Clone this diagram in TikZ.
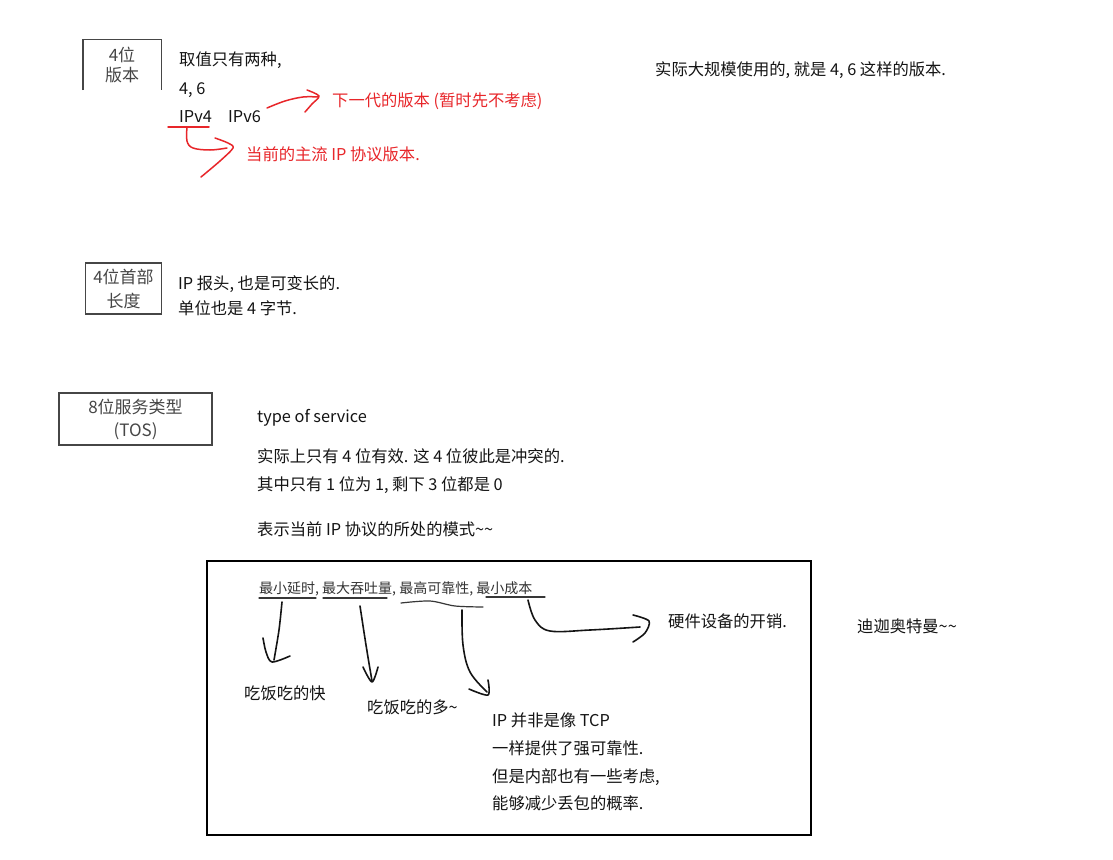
\documentclass[tikz,border=0pt]{standalone}
\usepackage{fontspec}
\setmainfont{Noto Sans CJK SC}
\definecolor{inkred}{RGB}{232,38,42}
\definecolor{ink}{RGB}{20,20,20}
\definecolor{scan}{RGB}{70,70,70}
\tikzset{
  txt/.style={anchor=base west, inner sep=0, text=ink, font=\fontsize{16.3}{20}\selectfont},
  redtxt/.style={txt, text=inkred},
  smalltxt/.style={anchor=base west, inner sep=0, text=black!80, font=\fontsize{14}{18}\selectfont},
  fieldbox/.style={inner sep=0, align=center, text=scan},
  boxline/.style={draw=scan, line width=1.4pt},
  redpen/.style={draw=inkred, line width=1.5pt, line cap=round, line join=round},
  pen/.style={draw=ink, line width=1.6pt, line cap=round, line join=round},
  thinpen/.style={draw=ink!85, line width=1.2pt, line cap=round}
}
\begin{document}
\begin{tikzpicture}[x=1pt,y=-1pt]
\useasboundingbox[fill=white] (0,0) rectangle (1113,859);

% ---- field boxes ----
\node[fieldbox, minimum width=78pt, minimum height=50pt, font=\fontsize{17}{20}\selectfont] (b1) at (122,65) {4位\\版本};
\draw[boxline] (b1.south west) -- (b1.north west) -- (b1.north east) -- (b1.south east);

\node[fieldbox, boxline, minimum width=76pt, minimum height=51pt, font=\fontsize{17}{24}\selectfont] (b2) at (123.5,288.5) {4位首部\\长度};

\node[fieldbox, boxline, minimum width=153pt, minimum height=52pt, font=\fontsize{17}{23}\selectfont] (b3) at (135.5,419) {8位服务类型\\(TOS)};

% ---- version texts ----
\node[txt] (v1) at (179,66) {取值只有两种,};
\node[txt] (v2) at (179,94) {4, 6};
\node[txt] (v4) at (179,122) {IPv4};
\node[txt] (v6) at (228,122) {IPv6};
\node[redtxt] (next) at (332,106) {下一代的版本 (暂时先不考虑)};
\node[redtxt] (cur) at (246,160) {当前的主流 IP 协议版本.};
\node[txt] (real) at (655,75) {实际大规模使用的, 就是 4, 6 这样的版本.};

% red strokes
\coordinate (u1) at (168,127);
\coordinate (u2) at (209,127);
\draw[redpen] (u1) -- (u2);
\draw[redpen] plot[smooth, tension=0.6] coordinates {(187,127) (187,141) (193,148) (210,150) (227,148)};
\draw[redpen] plot[smooth, tension=0.5] coordinates {(215,138) (228,143) (233,148) (220,161) (201,177)};
\draw[redpen] plot[smooth, tension=0.6] coordinates {(267,108) (285,101) (303,97) (318,97)};
\draw[redpen] plot[smooth, tension=0.5] coordinates {(307,90) (319,96) (312,104) (305,112)};

% ---- header length texts ----
\node[txt] (h1) at (178,289) {IP 报头, 也是可变长的.};
\node[txt] (h2) at (178,314) {单位也是 4 字节.};

% ---- TOS texts ----
\node[txt] (t1) at (257,422) {type of service};
\node[txt] (t2) at (257,462) {实际上只有 4 位有效. 这 4 位彼此是冲突的.};
\node[txt] (t3) at (257,490) {其中只有 1 位为 1, 剩下 3 位都是 0};
\node[txt] (t4) at (257,535) {表示当前 IP 协议的所处的模式\textasciitilde\textasciitilde};

% ---- big frame ----
\draw[draw=black, line width=2.6pt] (207,561) rectangle (811,835);
\node[smalltxt] (modes) at (259,593) {最小延时, 最大吞吐量, 最高可靠性, 最小成本};

% underlines
\draw[thinpen] (259,598) -- (316,598);
\draw[thinpen] (323,598) -- (387,598);
\draw[thinpen] plot[smooth, tension=0.5] coordinates {(401,603) (430,601) (455,606) (483,607)};
\draw[thinpen] (486,597) -- (545,597);

% arrows
\draw[pen] plot[smooth, tension=0.5] coordinates {(282,602) (279,630) (274,660)};
\draw[pen] plot[smooth, tension=0.5] coordinates {(263,638) (266,652) (272,662) (290,656)};

\draw[pen] plot[smooth, tension=0.5] coordinates {(360,606) (366,645) (372,681)};
\draw[pen] plot[smooth, tension=0.5] coordinates {(363,667) (372,682) (378,667)};

\draw[pen] plot[smooth, tension=0.6] coordinates {(462,610) (463,645) (470,672) (487,692)};
\draw[pen] plot[smooth, tension=0.5] coordinates {(469,689) (488,695) (488,680)};

\draw[pen] plot[smooth, tension=0.6] coordinates {(528,600) (535,620) (550,631) (590,630) (640,627)};
\draw[pen] plot[smooth, tension=0.5] coordinates {(633,615) (649,621) (645,633) (633,642)};

% captions
\node[txt] (c1) at (668,627) {硬件设备的开销.};
\node[txt] (c2) at (244,699) {吃饭吃的快};
\node[txt] (c3) at (367,713) {吃饭吃的多\textasciitilde};
\node[txt] (c4a) at (492,726) {IP 并非是像 TCP};
\node[txt] (c4b) at (492,754) {一样提供了强可靠性.};
\node[txt] (c4c) at (492,782) {但是内部也有一些考虑,};
\node[txt] (c4d) at (492,809) {能够减少丢包的概率.};

\node[txt] (ultra) at (857,632) {迪迦奥特曼\textasciitilde\textasciitilde};
\end{tikzpicture}
\end{document}
